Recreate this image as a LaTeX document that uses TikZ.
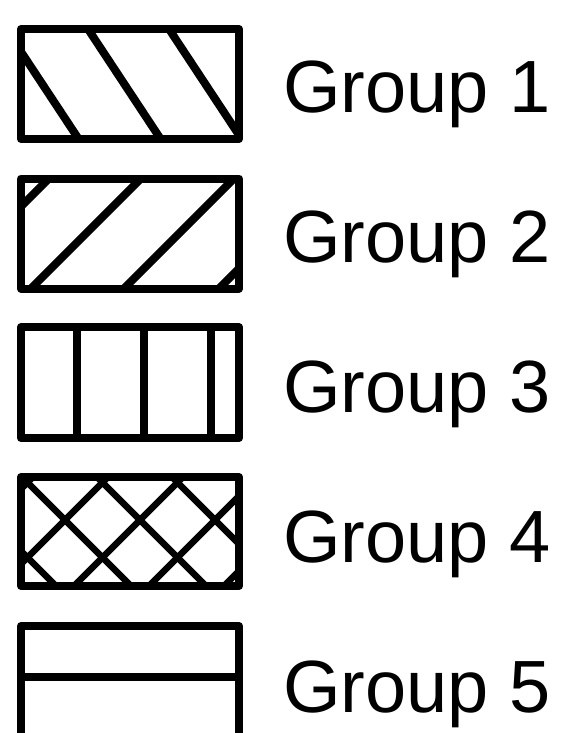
\documentclass[tikz,border=0pt]{standalone}
\usepackage{fontspec}
\setmainfont{Liberation Sans}
\begin{document}
\begin{tikzpicture}[x=1pt, y=-1pt,
  frame/.style={line width=8pt, line join=round},
  hatch/.style={line width=8pt},
  crosshatch/.style={line width=6.5pt},
  grouplabel/.style={anchor=base west, inner sep=0pt, font=\fontsize{74}{88}\selectfont}]
\clip (0,0) rectangle (567,733);
\begin{scope}[shift={(0,0)}]
  \begin{scope}
    \clip (21,29) rectangle (239,139);
    \draw[hatch] (-0.6,19) -- ++(85.8,130);
    \draw[hatch] (81.4,19) -- ++(85.8,130);
    \draw[hatch] (162.4,19) -- ++(85.8,130);
  \end{scope}
  \draw[frame] (21,29) rectangle (239,139);
  \node[grouplabel] (group1) at (283,113) {Group 1};
\end{scope}
\begin{scope}[shift={(0,149.5)}]
  \begin{scope}
    \clip (21,29) rectangle (239,139);
    \draw[hatch] (69,9) -- ++(-140,140);
    \draw[hatch] (161,9) -- ++(-140,140);
    \draw[hatch] (254,9) -- ++(-140,140);
    \draw[hatch] (349,9) -- ++(-140,140);
  \end{scope}
  \draw[frame] (21,29) rectangle (239,139);
  \node[grouplabel] (group2) at (283,113) {Group 2};
\end{scope}
\begin{scope}[shift={(0,299)}]
  \begin{scope}
    \clip (21,28) rectangle (239,139);
    \draw[hatch] (77,0) -- (77,160);
    \draw[hatch] (144,0) -- (144,160);
    \draw[hatch] (211,0) -- (211,160);
  \end{scope}
  \draw[frame] (21,28) rectangle (239,139);
  \node[grouplabel] (group3) at (283,113) {Group 3};
\end{scope}
\begin{scope}[shift={(0,448.5)}]
  \begin{scope}
    \clip (21,28.5) rectangle (239,137.5);
    % one way
    \draw[crosshatch] (0,81.5) -- ++(260,260);
    \draw[crosshatch] (0,6.5) -- ++(260,260);
    \draw[crosshatch] (0,-68.5) -- ++(260,260);
    \draw[crosshatch] (0,-143.5) -- ++(260,260);
    % other way
    \draw[crosshatch] (61.5,0) -- ++(-200,200);
    \draw[crosshatch] (136.5,0) -- ++(-200,200);
    \draw[crosshatch] (211.5,0) -- ++(-200,200);
    \draw[crosshatch] (286.5,0) -- ++(-200,200);
    \draw[crosshatch] (361.5,0) -- ++(-200,200);
  \end{scope}
  \draw[frame] (21,28.5) rectangle (239,137.5);
  \node[grouplabel] (group4) at (283,113.5) {Group 4};
\end{scope}
\begin{scope}[shift={(0,598)}]
  \begin{scope}
    \clip (21,28) rectangle (239,146);
    \draw[hatch] (0,79) -- (260,79);
  \end{scope}
  \draw[frame] (21,28) rectangle (239,146);
  \node[grouplabel] (group5) at (283,114) {Group 5};
\end{scope}
\end{tikzpicture}
\end{document}
